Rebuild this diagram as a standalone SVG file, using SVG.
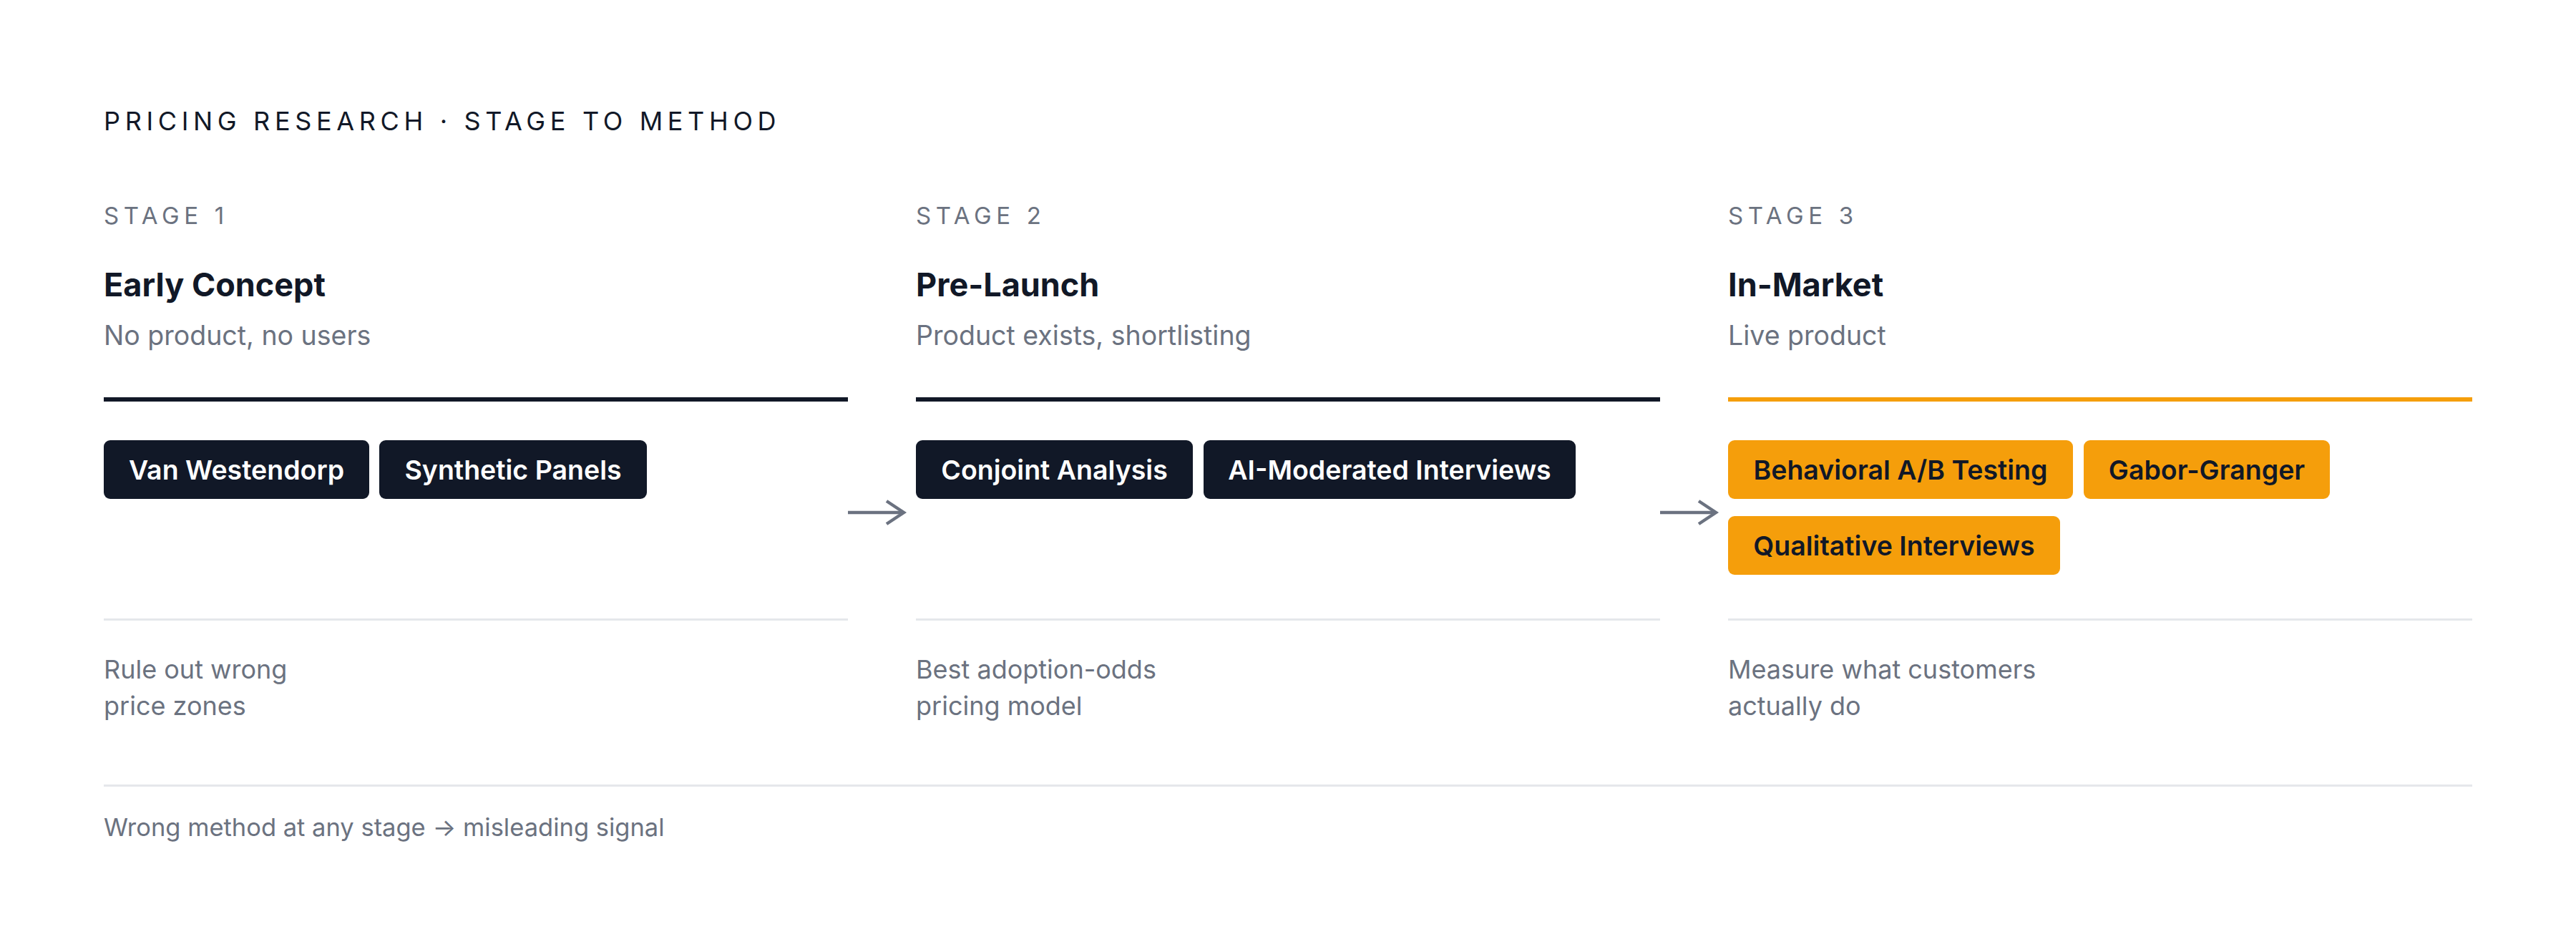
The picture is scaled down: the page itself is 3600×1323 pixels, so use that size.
<svg xmlns="http://www.w3.org/2000/svg" width="3600" height="1323" viewBox="0 0 3600 1323">
<style>
text{font-family:Inter,"Noto Sans","Liberation Sans",sans-serif}
.title{font-size:36px;fill:#111827;letter-spacing:6.65px}
.stage{font-size:33px;fill:#6b7280;letter-spacing:6.6px}
.head{font-size:45px;font-weight:700;fill:#111827}
.sub{font-size:37.5px;fill:#6b7280}
.desc{font-size:36px;fill:#6b7280}
.foot{font-size:34.5px;fill:#6b7280}
.chip-d rect{fill:#111827}
.chip-d text{fill:#ffffff;font-size:37.5px;font-weight:600;text-anchor:middle}
.chip-o rect{fill:#f59e0b}
.chip-o text{fill:#111827;font-size:37.5px;font-weight:600;text-anchor:middle}
.sep{fill:#e5e7eb}
.arrow{stroke:#6b7280;stroke-width:4.5;fill:none}
</style>
<rect width="3600" height="1323" fill="#ffffff"/>
<text class="title" x="145" y="182">PRICING RESEARCH · STAGE TO METHOD</text>

<g id="stage1">
<text class="stage" x="145" y="313">STAGE 1</text>
<text class="head" x="145" y="414">Early Concept</text>
<text class="sub" x="145" y="482">No product, no users</text>
<rect x="145" y="555" width="1040" height="6" fill="#111827"/>
<g id="chip-van-westendorp" class="chip-d"><rect x="145" y="615" width="371" height="82" rx="9"/><text x="330.5" y="670">Van Westendorp</text></g>
<g id="chip-synthetic-panels" class="chip-d"><rect x="530" y="615" width="374" height="82" rx="9"/><text x="717" y="670">Synthetic Panels</text></g>
<rect class="sep" x="145" y="864" width="1040" height="3"/>
<text class="desc" x="145" y="948">Rule out wrong</text>
<text class="desc" x="145" y="999">price zones</text>
</g>

<g id="stage2">
<text class="stage" x="1280" y="313">STAGE 2</text>
<text class="head" x="1280" y="414">Pre-Launch</text>
<text class="sub" x="1280" y="482">Product exists, shortlisting</text>
<rect x="1280" y="555" width="1040" height="6" fill="#111827"/>
<g id="chip-conjoint" class="chip-d"><rect x="1280" y="615" width="387" height="82" rx="9"/><text x="1473.5" y="670">Conjoint Analysis</text></g>
<g id="chip-ai-moderated" class="chip-d"><rect x="1682" y="615" width="520" height="82" rx="9"/><text x="1942" y="670">AI-Moderated Interviews</text></g>
<rect class="sep" x="1280" y="864" width="1040" height="3"/>
<text class="desc" x="1280" y="948">Best adoption-odds</text>
<text class="desc" x="1280" y="999">pricing model</text>
</g>

<g id="stage3">
<text class="stage" x="2415" y="313">STAGE 3</text>
<text class="head" x="2415" y="414">In-Market</text>
<text class="sub" x="2415" y="482">Live product</text>
<rect x="2415" y="555" width="1040" height="6" fill="#f59e0b"/>
<g id="chip-ab-testing" class="chip-o"><rect x="2415" y="615" width="482" height="82" rx="9"/><text x="2656" y="670">Behavioral A/B Testing</text></g>
<g id="chip-gabor-granger" class="chip-o"><rect x="2912" y="615" width="344" height="82" rx="9"/><text x="3084" y="670">Gabor-Granger</text></g>
<g id="chip-qualitative" class="chip-o"><rect x="2415" y="721" width="464" height="82" rx="9"/><text x="2647" y="776">Qualitative Interviews</text></g>
<rect class="sep" x="2415" y="864" width="1040" height="3"/>
<text class="desc" x="2415" y="948">Measure what customers</text>
<text class="desc" x="2415" y="999">actually do</text>
</g>

<g id="connectors">
<line class="arrow" x1="1185" y1="716" x2="1261" y2="716"/>
<polyline class="arrow" points="1239,700 1263,716 1239,732"/>
<line class="arrow" x1="2320" y1="716" x2="2396" y2="716"/>
<polyline class="arrow" points="2374,700 2398,716 2374,732"/>
</g>

<rect class="sep" x="145" y="1096" width="3310" height="3"/>
<text class="foot" x="145" y="1168">Wrong method at any stage → misleading signal</text>
</svg>
